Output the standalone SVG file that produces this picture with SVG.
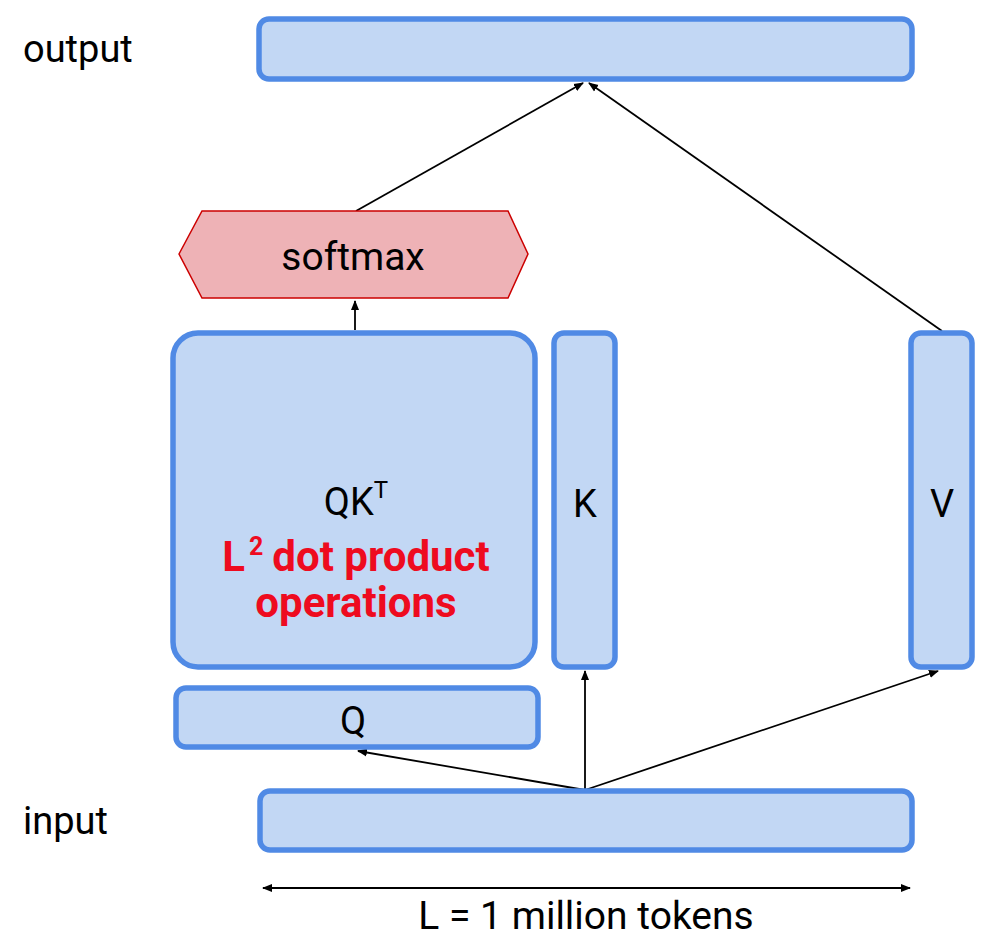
<svg xmlns="http://www.w3.org/2000/svg" width="998" height="946" viewBox="0 0 998 946">
<style>
.box{fill:#c2d7f4;stroke:#508ae5;stroke-width:5.5}
.t{font-family:Roboto,"Liberation Sans",sans-serif;fill:#000}
.red{font-family:Roboto,"Liberation Sans",sans-serif;fill:#ee0b1f;font-weight:bold;font-size:42px}
.c{stroke:#000;stroke-width:1.8;fill:none}
</style>
<defs>
<marker id="ah2" viewBox="0 0 10 10" refX="9" refY="5" markerWidth="10" markerHeight="10" orient="auto-start-reverse" markerUnits="userSpaceOnUse">
<path d="M0,1 L10,5 L0,9 Z" fill="#000"/>
</marker>
</defs>
<rect width="998" height="946" fill="#fff"/>
<text class="t" x="23" y="62" font-size="38">output</text>
<text class="t" x="23" y="834" font-size="38">input</text>
<g id="connectors">
<line class="c" x1="356" y1="211" x2="583" y2="83" marker-end="url(#ah2)"/>
<line class="c" x1="942" y1="331" x2="589" y2="83" marker-end="url(#ah2)"/>
<line class="c" x1="355" y1="330" x2="355" y2="301" marker-end="url(#ah2)"/>
<line class="c" x1="585" y1="790" x2="358" y2="751" marker-end="url(#ah2)"/>
<line class="c" x1="585" y1="790" x2="585" y2="671" marker-end="url(#ah2)"/>
<line class="c" x1="585" y1="790" x2="938" y2="671" marker-end="url(#ah2)"/>
<line class="c" x1="263" y1="888" x2="910" y2="888" marker-start="url(#ah2)" marker-end="url(#ah2)"/>
</g>
<g id="output"><rect class="box" x="259" y="19" width="653" height="60" rx="10"/></g>
<g id="softmax">
<polygon points="179,254 202,211 508,211 528,254 508,298 202,298" fill="#eeb2b6" stroke="#cc0000" stroke-width="1.5"/>
<text class="t" x="353" y="270" font-size="39" text-anchor="middle">softmax</text>
</g>
<g id="qkt">
<rect class="box" x="173" y="333" width="362" height="334" rx="25"/>
<text class="t" x="356" y="515" font-size="38" text-anchor="middle">QK<tspan font-size="24" dy="-17">T</tspan></text>
<text class="red" x="356" y="571" text-anchor="middle">L<tspan font-size="25" dy="-16" dx="4">2</tspan><tspan dy="16" dx="9">dot product</tspan></text>
<text class="red" x="356" y="617" text-anchor="middle">operations</text>
</g>
<g id="k"><rect class="box" x="554" y="333" width="61" height="334" rx="10"/>
<text class="t" x="585" y="517" font-size="38" text-anchor="middle">K</text></g>
<g id="v"><rect class="box" x="911" y="333" width="61" height="334" rx="10"/>
<text class="t" x="942" y="517" font-size="38" text-anchor="middle">V</text></g>
<g id="q"><rect class="box" x="176" y="688" width="362" height="59" rx="10"/>
<text class="t" x="353" y="734" font-size="38" text-anchor="middle">Q</text></g>
<g id="input"><rect class="box" x="260" y="791" width="652" height="59" rx="10"/></g>
<text class="t" x="586" y="929" font-size="39" text-anchor="middle">L = 1 million tokens</text>
</svg>
